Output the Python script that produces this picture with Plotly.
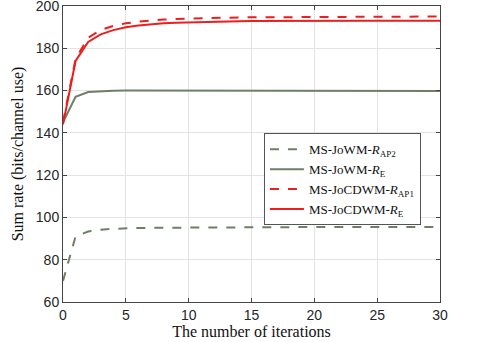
import plotly.graph_objects as go

iters = list(range(0, 31))

# MS-JoWM, rate of AP2 (dashed grey-green)
jowm_rap2 = [70, 91, 93.3, 94.2, 94.6, 94.9, 95.0, 95.1, 95.15, 95.2, 95.25,
             95.3, 95.3, 95.35, 95.35, 95.4, 95.4, 95.4, 95.4, 95.45, 95.45,
             95.45, 95.45, 95.5, 95.5, 95.5, 95.5, 95.5, 95.5, 95.5, 95.5]
# MS-JoWM, sum rate
jowm_re = [145, 157, 159.3, 159.8, 159.95, 160, 160, 160, 160, 159.95, 159.95,
           159.9, 159.9, 159.9, 159.9, 159.85, 159.85, 159.85, 159.85, 159.8, 159.8,
           159.8, 159.8, 159.8, 159.8, 159.8, 159.8, 159.8, 159.8, 159.8, 159.8]
# MS-JoCDWM, rate of AP1 (dashed red)
jocdwm_rap1 = [145, 175, 185, 188.6, 190.6, 191.8, 192.6, 193.2, 193.6, 193.9, 194.1,
               194.3, 194.4, 194.5, 194.6, 194.65, 194.7, 194.75, 194.8, 194.8, 194.85,
               194.85, 194.9, 194.9, 194.9, 194.95, 194.95, 194.95, 195, 195, 195]
# MS-JoCDWM, sum rate
jocdwm_re = [144, 174, 183, 186.6, 188.6, 189.9, 190.8, 191.4, 191.8, 192.1, 192.3,
             192.5, 192.6, 192.7, 192.8, 192.85, 192.9, 192.9, 192.95, 192.95, 193,
             193, 193, 193, 193, 193, 193, 193, 193, 193, 193]

x_ticks = [0, 5, 10, 15, 20, 25, 30]
y_ticks = [60, 80, 100, 120, 140, 160, 180, 200]

green = "#6f7f67"
red = "#ec1e1e"

fig = go.Figure()
fig.add_trace(go.Scatter(x=iters, y=jowm_rap2, mode="lines", name="MS-JoWM-<i>R</i><sub>AP2</sub>",
                         line=dict(color=green, width=2, dash="dash")))
fig.add_trace(go.Scatter(x=iters, y=jowm_re, mode="lines", name="MS-JoWM-<i>R</i><sub>E</sub>",
                         line=dict(color=green, width=2)))
fig.add_trace(go.Scatter(x=iters, y=jocdwm_rap1, mode="lines", name="MS-JoCDWM-<i>R</i><sub>AP1</sub>",
                         line=dict(color=red, width=2, dash="dash")))
fig.add_trace(go.Scatter(x=iters, y=jocdwm_re, mode="lines", name="MS-JoCDWM-<i>R</i><sub>E</sub>",
                         line=dict(color=red, width=2)))

axis_style = dict(showline=True, linecolor="#444", linewidth=1, mirror="ticks",
                  ticks="inside", ticklen=4, tickcolor="#444", automargin=False,
                  ticklabeloverflow="allow",
                  showgrid=True, gridcolor="#e3e3e3", zeroline=False,
                  tickfont=dict(family="Liberation Sans, Arial", size=14, color="#262626"))

fig.update_layout(
    width=486, height=342,
    margin=dict(l=63, r=46, t=6, b=40),
    plot_bgcolor="white", paper_bgcolor="white",
    xaxis=dict(range=[0, 30], tickvals=x_ticks,
               title=dict(text="The number of iterations", standoff=1,
                          font=dict(family="Liberation Serif, Times New Roman", size=16, color="#111")),
               **axis_style),
    yaxis=dict(range=[60, 200], tickvals=y_ticks,
               title=dict(text="Sum rate (bits/channel use)", standoff=8,
                          font=dict(family="Liberation Serif, Times New Roman", size=16, color="#111")),
               **axis_style),
    legend=dict(x=0.533, y=0.57, xanchor="left", yanchor="top",
                bgcolor="white", bordercolor="#555", borderwidth=1,
                font=dict(family="Liberation Serif, Times New Roman", size=13, color="#111"),
                tracegroupgap=0, itemwidth=34),
    showlegend=True,
)

fig.write_html("out.html", config={"displayModeBar": False},
               post_script="document.body.style.margin='0';")
